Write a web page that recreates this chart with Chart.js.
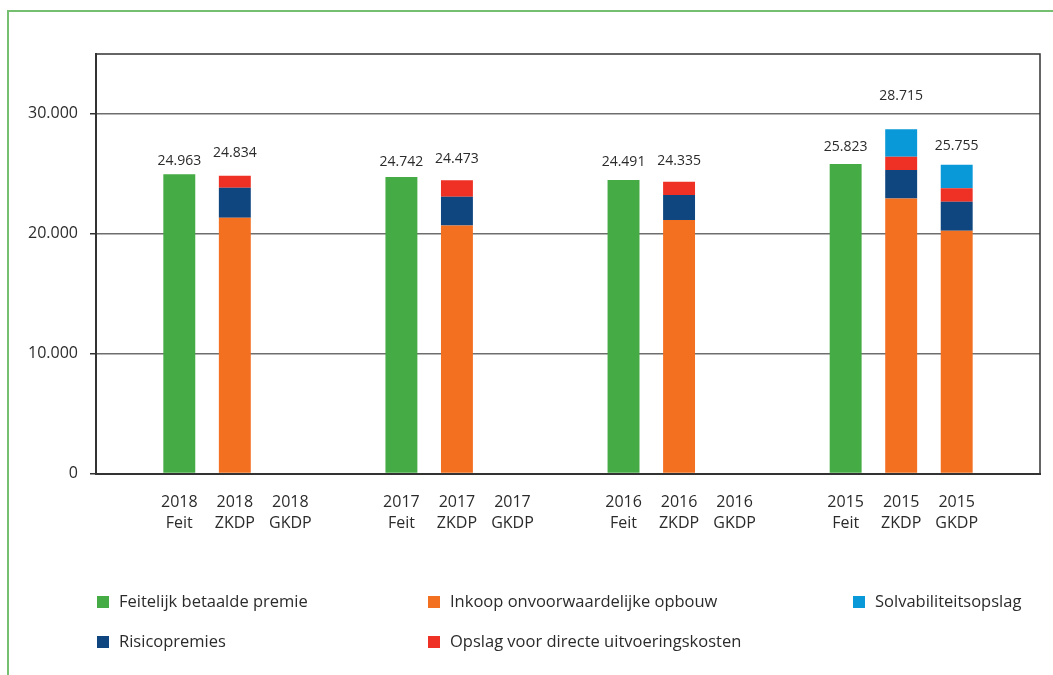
<!DOCTYPE html>
<html lang="nl">
<head>
<meta charset="utf-8">
<title>Premies per jaar</title>
<script src="https://cdn.jsdelivr.net/npm/chart.js@4/dist/chart.umd.min.js"></script>
<style>
  html, body { margin: 0; padding: 0; background: #fff; }
  #wrap { position: relative; width: 1053px; height: 675px; overflow: hidden; }
  #frame {
    position: absolute; left: 7px; top: 10px; right: -10px; bottom: -10px;
    border-left: 2px solid #74bf70; border-top: 2px solid #74bf70;
  }
  #myChart { position: absolute; left: 0; top: 0; }
</style>
</head>
<body>
<div id="wrap">
  <div id="frame"></div>
  <canvas id="myChart" width="1053" height="675"></canvas>
</div>
<script>
// groepen en soorten op de x-as
const years = ['2018', '2017', '2016', '2015'];
const kinds = ['Feit', 'ZKDP', 'GKDP'];

// één waarde per staaf: 2018 Feit, 2018 ZKDP, 2018 GKDP, 2017 Feit, ...
const feitelijk   = [24963, null, null, 24742, null, null, 24491, null, null, 25823, null,  null];
const inkoop      = [null, 21330, null, null, 20700, null, null, 21140, null, null, 22950, 20250];
const risico      = [null,  2510, null, null,  2390, null, null,  2090, null, null,  2370,  2430];
const opslag      = [null,   994, null, null,  1383, null, null,  1105, null, null,  1110,  1110];
const solvabiliteit = [null, null, null, null, null, null, null, null, null, null,  2285,  1965];

const yTicks = [0, 10000, 20000, 30000];

// hoe ver het totaal boven de staaf staat (px)
const labelLift = [13, 23, 0, 15, 21, 0, 18, 21, 0, 17, 33, 19];

const TEXT = '#2b2b2b';
const FONT = "'Open Sans', 'Noto Sans', sans-serif";

// lege plek voor, tussen en na de jaargroepen
function withGaps(arr) {
  const out = [null];
  years.forEach((y, g) => {
    kinds.forEach((k, i) => out.push(arr[g * kinds.length + i]));
    out.push(null);
  });
  return out;
}

const labels = [''];
years.forEach(y => {
  kinds.forEach(k => labels.push([y, k]));
  labels.push('');
});

function fmt(n) {
  return String(Math.round(n)).replace(/\B(?=(\d{3})+(?!\d))/g, '.');
}

const datasets = [
  { label: 'Feitelijk betaalde premie', data: withGaps(feitelijk), backgroundColor: '#45ab44' },
  { label: 'Inkoop onvoorwaardelijke opbouw', data: withGaps(inkoop), backgroundColor: '#f37021' },
  { label: 'Risicopremies', data: withGaps(risico), backgroundColor: '#0f467f' },
  { label: 'Opslag voor directe uitvoeringskosten', data: withGaps(opslag), backgroundColor: '#ee3124' },
  { label: 'Solvabiliteitsopslag', data: withGaps(solvabiliteit), backgroundColor: '#0998d8' }
];
datasets.forEach(d => { d.barPercentage = 0.575; d.categoryPercentage = 1; d.borderWidth = 0; });

const lifts = withGaps(labelLift);

// totalen boven de staven
const totalsPlugin = {
  id: 'totals',
  afterDatasetsDraw(chart) {
    const ctx = chart.ctx;
    const xs = chart.scales.x, ys = chart.scales.y;
    ctx.save();
    ctx.font = '14px ' + FONT;
    ctx.fillStyle = TEXT;
    ctx.textAlign = 'center';
    ctx.textBaseline = 'middle';
    labels.forEach((l, i) => {
      let total = 0;
      chart.data.datasets.forEach(d => { if (d.data[i] != null) total += d.data[i]; });
      if (!total) return;
      const x = xs.getPixelForValue(i);
      const y = ys.getPixelForValue(total);
      ctx.fillText(fmt(total), x, y - (lifts[i] || 15));
    });
    ctx.restore();
  }
};

// kader rond het plotgebied en de legenda onderaan
const legendSlots = [[97, 602], [428, 602], [97, 642], [428, 642], [853, 602]];
const framePlugin = {
  id: 'frameAndLegend',
  afterDraw(chart) {
    const ctx = chart.ctx;
    const a = chart.chartArea;
    ctx.save();
    ctx.strokeStyle = '#333';
    ctx.lineWidth = 1.5;
    ctx.beginPath();
    ctx.moveTo(a.left, a.top);
    ctx.lineTo(a.right, a.top);
    ctx.lineTo(a.right, a.bottom);
    ctx.stroke();

    ctx.font = '16.5px ' + FONT;
    ctx.textBaseline = 'middle';
    ctx.textAlign = 'left';
    chart.data.datasets.forEach((d, i) => {
      const [x, y] = legendSlots[i];
      ctx.fillStyle = d.backgroundColor;
      ctx.fillRect(x, y - 6, 12, 12);
      ctx.fillStyle = TEXT;
      ctx.fillText(d.label, x + 22, y);
    });
    ctx.restore();
  }
};

const myChart = new Chart(document.getElementById('myChart'), {
  type: 'bar',
  data: { labels: labels, datasets: datasets },
  plugins: [totalsPlugin, framePlugin],
  options: {
    responsive: false,
    animation: false,
    devicePixelRatio: 1,
    layout: { padding: { top: 54, right: 13, left: 0, bottom: 0 } },
    plugins: { legend: { display: false }, tooltip: { enabled: false } },
    scales: {
      x: {
        stacked: true,
        afterFit(scale) { scale.height = 201.5; },
        grid: { display: true, drawOnChartArea: false, drawTicks: false },
        border: { display: true, color: '#333', width: 2 },
        ticks: {
          autoSkip: false, maxRotation: 0, padding: 19,
          color: TEXT, font: { family: FONT, size: 16, lineHeight: 1.3 }
        }
      },
      y: {
        stacked: true,
        min: 0,
        max: 35000,
        afterFit(scale) { scale.width = 96; },
        afterBuildTicks(scale) {
          scale.ticks = yTicks.concat([35000]).map(v => ({ value: v }));
        },
        grid: {
          color: c => (c.tick && c.tick.value === 35000) ? 'rgba(0,0,0,0)' : '#6e6e6e',
          tickColor: c => (c.tick && c.tick.value === 35000) ? 'rgba(0,0,0,0)' : '#333',
          lineWidth: 1.5,
          tickLength: 6
        },
        border: { display: true, color: '#333', width: 2 },
        ticks: {
          padding: 12,
          color: TEXT,
          font: { family: FONT, size: 16 },
          callback: v => (v === 35000 ? '' : fmt(v))
        }
      }
    }
  }
});
</script>
</body>
</html>
